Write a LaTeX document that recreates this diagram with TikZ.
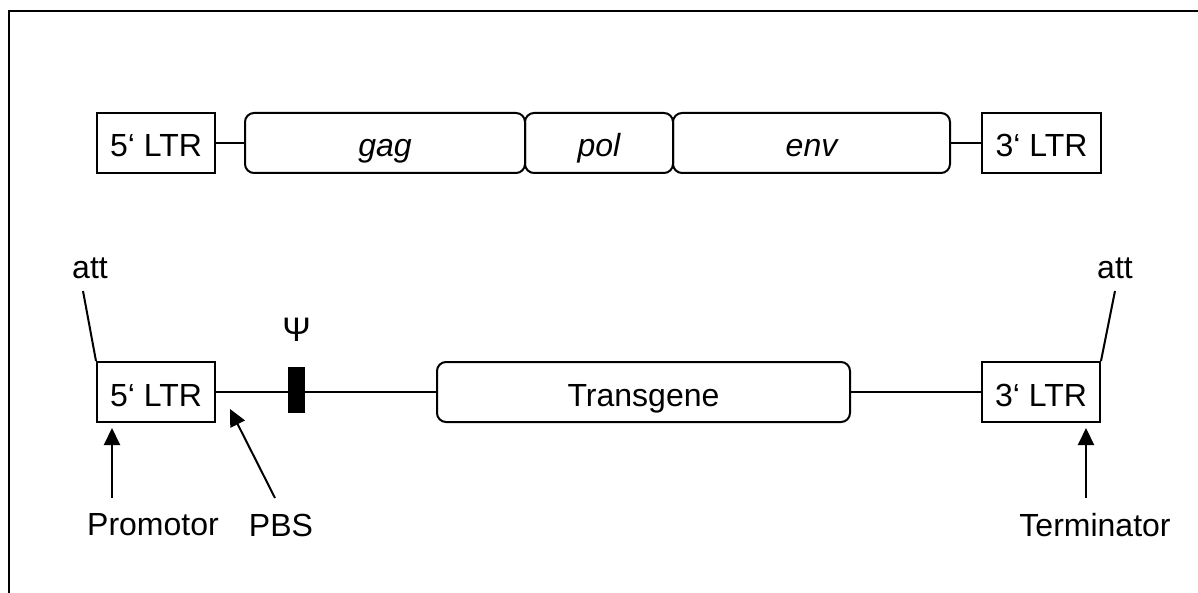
\documentclass[tikz,border=0pt]{standalone}
\usepackage{fontspec}
\setmainfont{Liberation Sans}
\usetikzlibrary{arrows.meta}
\begin{document}
\begin{tikzpicture}[x=1pt,y=-1pt,
  every node/.style={font=\fontsize{32}{38}\selectfont, inner sep=0pt},
  boxed/.style={text height=28pt, text depth=0pt},
  ltr/.style={boxed, draw, line width=2pt, minimum width=118pt, minimum height=60pt},
  gene/.style={boxed, draw, line width=2pt, rounded corners=9pt, minimum height=60pt},
  link/.style={line width=2pt},
  pointer/.style={line width=2pt, -{Triangle[length=17pt,width=16pt]}},
  lbl/.style={}]
\useasboundingbox (0,0) rectangle (1198,593);
\draw[line width=2.6pt] (9,593) -- (9,11) -- (1198,11);
% top row
\node[ltr] (l5t) at (156,143) {5‘ LTR};
\node[gene, minimum width=280pt] (gag) at (385,143) {\itshape gag};
\node[gene, minimum width=148pt] (pol) at (599,143) {\itshape pol};
\node[gene, minimum width=277pt] (env) at (811.5,143) {\itshape env};
\node[ltr, minimum width=119pt] (l3t) at (1041.5,143) {3‘ LTR};
\draw[link] (l5t.east) -- (gag.west);
\draw[link] (env.east) -- (l3t.west);
% bottom row
\node[ltr] (l5b) at (156,392) {5‘ LTR};
\node[gene, minimum width=413pt] (tg) at (643.5,392) {Transgene};
\node[ltr] (l3b) at (1041,392) {3‘ LTR};
\draw[link] (l5b.east) -- (tg.west);
\draw[link] (tg.east) -- (l3b.west);
\node[fill=black, minimum width=17pt, minimum height=46pt] (psi) at (296.5,390) {};
\node[lbl, font=\fontsize{34}{40}\selectfont] (psil) at (296.5,330) {Ψ};
% att
\node[lbl] (attl) at (90,268) {att};
\node[lbl] (attr) at (1115,268) {att};
\coordinate (attlend) at (83,291);
\coordinate (attrend) at (1115,291);
\draw[link] (attlend) -- (l5b.north west);
\draw[link] (attrend) -- (l3b.north east);
% bottom labels
\node[lbl] (prom) at (153,525) {Promotor};
\node[lbl] (pbs) at (281,525) {PBS};
\node[lbl] (term) at (1095,525) {Terminator};
\coordinate (promtail) at (112,498);
\coordinate (promtip) at (112,428);
\coordinate (pbstail) at (275,498);
\coordinate (pbstip) at (230,409);
\coordinate (termtail) at (1086,498);
\coordinate (termtip) at (1086,428);
\draw[pointer] (promtail) -- (promtip);
\draw[pointer] (pbstail) -- (pbstip);
\draw[pointer] (termtail) -- (termtip);
\end{tikzpicture}
\end{document}
